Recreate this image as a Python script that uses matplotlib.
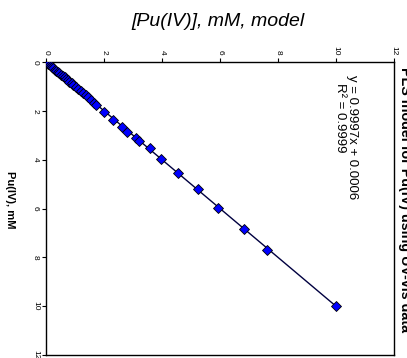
import matplotlib
matplotlib.use("Agg")
import matplotlib.pyplot as plt
import numpy as np

plt.rcParams['font.family'] = ['Liberation Sans', 'DejaVu Sans']

# Data: actual Pu(IV) concentration (mM) and PLS model prediction (mM)
actual = [0.02, 0.08, 0.12, 0.17, 0.21, 0.26, 0.31, 0.36, 0.41, 0.46, 0.52, 0.58,
          0.63, 0.69, 0.75, 0.82, 0.88, 0.95, 1.02, 1.10, 1.18, 1.27, 1.36, 1.45,
          1.55, 1.66, 1.76, 2.04, 2.37, 2.65, 2.85, 3.13, 3.22, 3.54, 3.99, 4.54,
          5.22, 5.96, 6.86, 7.70, 10.00]
model = [0.03, 0.07, 0.13, 0.16, 0.22, 0.25, 0.32, 0.35, 0.42, 0.45, 0.53, 0.57,
         0.64, 0.68, 0.76, 0.81, 0.89, 0.94, 1.03, 1.09, 1.19, 1.26, 1.37, 1.44,
         1.56, 1.65, 1.72, 1.99, 2.31, 2.62, 2.80, 3.09, 3.20, 3.58, 3.95, 4.56,
         5.24, 5.94, 6.82, 7.62, 10.00]
slope = 0.9997
intercept = 0.0006
ticks = [0, 2, 4, 6, 8, 10, 12]

title = "PLS model for Pu(IV) using UV-vis data"
xlabel_top = "[Pu(IV)], mM, model"
ylabel_left = "Pu(IV), mM"
eq_text = "y = 0.9997x + 0.0006"
r2_text = "R\u00b2 = 0.9999"

W, H = 407, 358
fig = plt.figure(figsize=(W / 100, H / 100), dpi=100)
ax = fig.add_axes([46 / W, 3 / H, 348 / W, 293 / H])

line_actual = np.array([min(actual), max(actual)])
line_model = slope * line_actual + intercept
ax.plot(line_model, line_actual, color='#000040', lw=1.0, zorder=2)
ax.plot(model, actual, linestyle='none', marker='D', markersize=5.3,
        markerfacecolor='#0000FF', markeredgecolor='black', markeredgewidth=0.6, zorder=3)

ax.set_xlim(0, 12)
ax.set_ylim(12, 0)
ax.xaxis.tick_top()
ax.set_xticks(ticks)
ax.set_yticks(ticks)
ax.set_xticklabels([str(t) for t in ticks], rotation=-90, fontsize=6)
ax.set_yticklabels([str(t) for t in ticks], rotation=-90, fontsize=6, va='center')
ax.tick_params(direction='out', length=3, width=0.8, pad=2)
for s in ax.spines.values():
    s.set_linewidth(1.0)
    s.set_color('black')

fig.text(10 / W, 1 - 200 / H, ylabel_left, rotation=-90, fontsize=8, fontweight='bold',
         ha='center', va='center')
fig.text(218 / W, 1 - 22 / H, xlabel_top, fontsize=14, style='italic',
         ha='center', va='center')
fig.text(405 / W, 1 - 200 / H, title, rotation=-90, fontsize=10.3, fontweight='bold',
         ha='center', va='center')
fig.text(352 / W, 1 - 137 / H, eq_text, rotation=-90, fontsize=9.5,
         ha='center', va='center')
fig.text(340 / W, 1 - 118 / H, r2_text, rotation=-90, fontsize=9.5,
         ha='center', va='center')

fig.savefig("out.png", dpi=100)
